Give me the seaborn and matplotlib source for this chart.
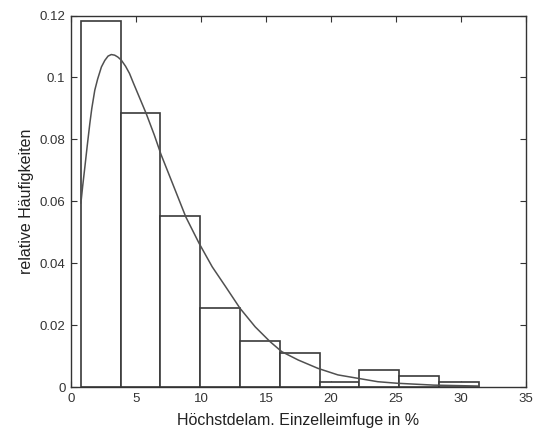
import numpy as np
import seaborn as sns
from matplotlib import pyplot as plt

sns.set_theme(style="ticks")
plt.rcParams['font.family'] = ['Liberation Sans', 'DejaVu Sans']
plt.rcParams['xtick.direction'] = 'in'
plt.rcParams['ytick.direction'] = 'in'

# bin edges and relative frequencies
binEdges = [0.76, 3.82, 6.88, 9.94, 13.0, 16.06, 19.12, 22.18, 25.24, 28.3, 31.36]
relFreq = [0.1182, 0.0886, 0.0554, 0.0257, 0.0150, 0.0110, 0.0018, 0.0056, 0.0036, 0.0016]

# fitted density curve
curveX = [0.76, 0.9, 1.07, 1.25, 1.45, 1.6, 1.83, 2.05, 2.34, 2.6, 2.85, 3.1, 3.36, 3.6,
          3.87, 4.2, 4.5, 4.8, 5.14, 5.78, 6.41, 6.92, 7.81, 8.83, 9.85, 10.86, 11.89,
          13.0, 14.17, 15.32, 16.21, 17.48, 19.0, 20.53, 22.06, 23.6, 25.1, 27.9, 31.36]
curveY = [0.0594, 0.0650, 0.0712, 0.0780, 0.0852, 0.0900, 0.0959, 0.0995, 0.1034, 0.1055,
          0.1069, 0.1074, 0.1072, 0.1066, 0.1056, 0.1036, 0.1013, 0.0982, 0.0948, 0.0884,
          0.0814, 0.0752, 0.0658, 0.0550, 0.0465, 0.0389, 0.0325, 0.0255, 0.0195, 0.0147,
          0.0115, 0.0088, 0.0061, 0.0040, 0.0029, 0.0018, 0.0013, 0.0007, 0.0004]

edges = np.array(binEdges)
centers = (edges[:-1] + edges[1:]) / 2

fig = plt.figure(figsize=(5.33, 4.32), dpi=100)
ax = fig.add_axes([0.1332, 0.1035, 0.8537, 0.8606])

sns.histplot(x=centers, weights=relFreq, bins=binEdges, ax=ax,
             color='white', edgecolor='#3a3a3a', linewidth=1.2, alpha=1)
sns.lineplot(x=curveX, y=curveY, ax=ax, color='#505050', linewidth=1.1)

ax.set_xlim(0, 35)
ax.set_ylim(0, 0.12)
ax.set_xticks([0, 5, 10, 15, 20, 25, 30, 35])
ax.set_yticks([0, 0.02, 0.04, 0.06, 0.08, 0.1, 0.12])
ax.set_yticklabels(['0', '0.02', '0.04', '0.06', '0.08', '0.1', '0.12'])
ax.tick_params(top=True, right=True, length=4, width=0.8, colors='#333333',
               labelsize=9.5, pad=4)
for s in ax.spines.values():
    s.set_color('#333333')
    s.set_linewidth(1.0)

ax.set_xlabel('Höchstdelam. Einzelleimfuge in %', fontsize=11.5, color='#222222', labelpad=6)
ax.set_ylabel('relative Häufigkeiten', fontsize=11.5, color='#222222', labelpad=4)

plt.savefig('out.png', dpi=100)
plt.close()
